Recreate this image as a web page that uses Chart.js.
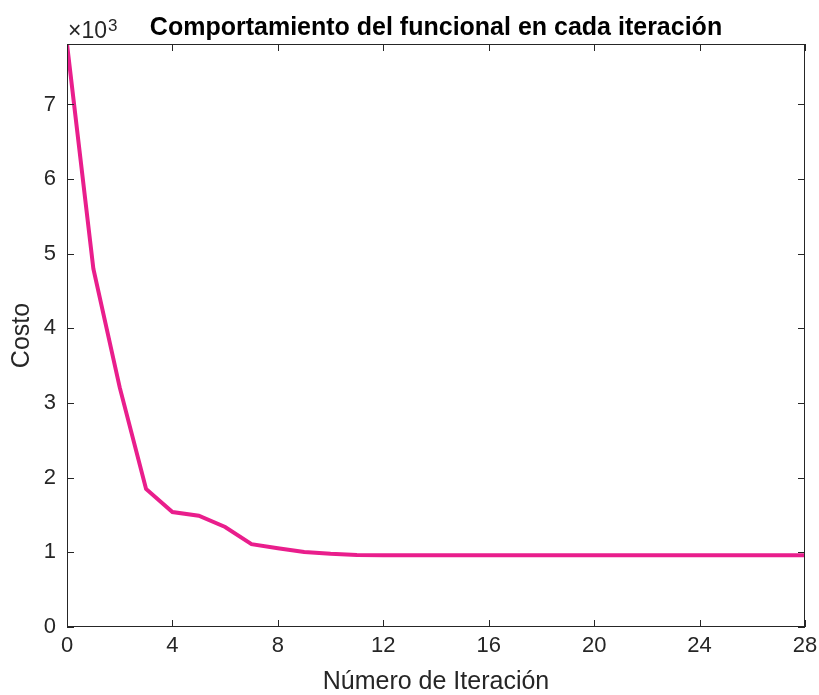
<!DOCTYPE html>
<html>
<head>
<meta charset="utf-8">
<script src="https://cdn.jsdelivr.net/npm/chart.js@4"></script>
<style>
  html, body { margin: 0; padding: 0; background: #fff; }
  #wrap { width: 819px; height: 695px; }
</style>
</head>
<body>
<div id="wrap"><canvas id="costChart" width="819" height="695"></canvas></div>
<script>
// iteraciones y costo del funcional
const iteraciones = [0, 1, 2, 3, 4, 5, 6, 7, 8, 9, 10, 11, 12, 13, 14, 15, 16, 17, 18, 19, 20, 21, 22, 23, 24, 25, 26, 27, 28];
const costo = [7810, 4800, 3210, 1850, 1540, 1490, 1340, 1110, 1055, 1005, 980, 966, 962, 961, 960, 960, 960, 960, 960, 960, 960, 960, 960, 960, 960, 960, 960, 960, 960];
const xTicks = [0, 4, 8, 12, 16, 20, 24, 28];
const yTicks = [0, 1000, 2000, 3000, 4000, 5000, 6000, 7000];

const FONT = 'Liberation Sans, Arial, Helvetica, sans-serif';
const AXIS = '#262626';

// caja estilo matlab con marcas hacia adentro
const boxPlugin = {
  id: 'matlabBox',
  afterDatasetsDraw(chart) {
    const { ctx, chartArea: a, scales } = chart;
    const tl = 7;
    ctx.save();
    ctx.strokeStyle = AXIS;
    ctx.lineWidth = 1;
    ctx.strokeRect(a.left + 0.5, a.top + 0.5, a.right - a.left - 1, a.bottom - a.top - 1);
    ctx.beginPath();
    xTicks.forEach(v => {
      const px = Math.round(scales.x.getPixelForValue(v)) + 0.5;
      ctx.moveTo(px, a.bottom); ctx.lineTo(px, a.bottom - tl);
      ctx.moveTo(px, a.top); ctx.lineTo(px, a.top + tl);
    });
    yTicks.forEach(v => {
      const py = Math.round(scales.y.getPixelForValue(v)) + 0.5;
      ctx.moveTo(a.left, py); ctx.lineTo(a.left + tl, py);
      ctx.moveTo(a.right, py); ctx.lineTo(a.right - tl, py);
    });
    ctx.stroke();

    // titulo
    ctx.fillStyle = '#000';
    ctx.font = 'bold 25px ' + FONT;
    ctx.textAlign = 'center';
    ctx.textBaseline = 'alphabetic';
    ctx.fillText('Comportamiento del funcional en cada iteración', (a.left + a.right) / 2, 35);

    // multiplicador x10^3
    ctx.fillStyle = AXIS;
    ctx.textAlign = 'left';
    ctx.font = '23px ' + FONT;
    ctx.fillText('×10', a.left + 1, 38);
    const w = ctx.measureText('×10').width;
    ctx.font = '17px ' + FONT;
    ctx.fillText('3', a.left + 2 + w, 31);
    ctx.restore();
  }
};

const ctx = document.getElementById('costChart').getContext('2d');
const costChart = new Chart(ctx, {
  type: 'line',
  data: {
    labels: iteraciones,
    datasets: [{
      label: 'Costo',
      data: iteraciones.map((it, i) => ({ x: it, y: costo[i] })),
      borderColor: 'rgb(233, 30, 140)',
      borderWidth: 4,
      pointRadius: 0,
      tension: 0,
      fill: false
    }]
  },
  options: {
    responsive: false,
    animation: false,
    layout: { padding: { top: 44, right: 14, left: 0, bottom: 0 } },
    plugins: { legend: { display: false }, tooltip: { enabled: false }, title: { display: false } },
    scales: {
      x: {
        type: 'linear',
        min: 0,
        max: 28,
        grid: { display: false, drawTicks: false },
        border: { display: false },
        afterBuildTicks: s => { s.ticks = xTicks.map(v => ({ value: v })); },
        afterFit: s => { s.height = 68; s.paddingLeft = 0; s.paddingRight = 0; },
        ticks: { color: AXIS, padding: 6, maxRotation: 0, font: { family: FONT, size: 22 } },
        title: { display: true, text: 'Número de Iteración', color: AXIS, padding: { top: 0, bottom: -2 }, font: { family: FONT, size: 25 } }
      },
      y: {
        min: 0,
        max: 7810,
        grid: { display: false, drawTicks: false },
        border: { display: false },
        afterBuildTicks: s => { s.ticks = yTicks.map(v => ({ value: v })); },
        afterFit: s => { s.width = 67; s.paddingTop = 0; s.paddingBottom = 0; },
        ticks: { color: AXIS, padding: 11, font: { family: FONT, size: 22 }, callback: v => v / 1000 },
        title: { display: true, text: 'Costo', color: AXIS, padding: { top: 7, bottom: 0 }, font: { family: FONT, size: 25 } }
      }
    }
  },
  plugins: [boxPlugin]
});
</script>
</body>
</html>
